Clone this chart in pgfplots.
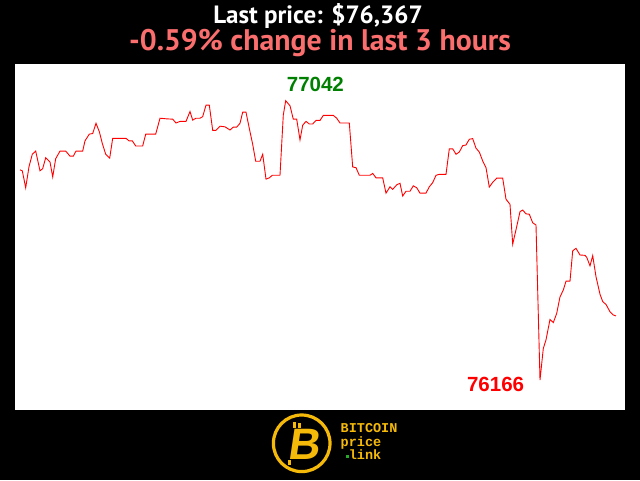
\documentclass[border=0pt]{standalone}
\usepackage{pgfplots}
\pgfplotsset{compat=1.18}
\usepackage{pgfplotstable}
\usepackage{fontspec}
\setmainfont{PT Sans}
\newfontfamily\labelfont{Liberation Sans}
\newfontfamily\logofont{Liberation Mono}

\definecolor{pricered}{RGB}{255,0,0}
\definecolor{maxgreen}{RGB}{0,128,0}
\definecolor{changered}{RGB}{250,110,110}
\definecolor{logogold}{RGB}{245,185,10}
\definecolor{logogreen}{RGB}{40,170,40}

% price over the last 3 hours (x = sample position, y = USD)
\pgfplotstableread{
x      price
20.0   76825
22.3   76822
25.7   76769
29.0   76835
32.3   76874
35.7   76884
40.0   76822
42.7   76829
45.7   76863
50.0   76850
52.7   76803
55.7   76860
60.0   76884
65.7   76884
70.0   76868
73.3   76868
76.0   76884
82.7   76884
85.0   76916
89.3   76937
92.7   76939
96.0   76971
99.3   76945
102.3  76908
105.7  76874
109.7  76862
112.7  76924
126.0  76924
129.0  76916
132.3  76916
135.7  76900
142.7  76900
145.7  76937
155.7  76937
160.0  76987
166.7  76985
172.7  76984
176.0  76972
180.0  76977
186.0  76977
190.0  77008
192.7  76981
196.0  76987
200.0  76987
202.7  76992
206.0  77028
209.3  77028
212.7  76949
216.0  76949
220.0  76962
225.0  76960
230.0  76950
233.3  76959
236.7  76959
240.0  76971
242.7  77006
246.0  77006
249.3  76955
252.7  76905
255.7  76852
260.0  76852
262.7  76874
266.0  76796
269.3  76800
272.3  76808
280.0  76808
283.3  76997
285.7  77042
290.0  77026
293.3  76984
296.7  76984
300.0  76919
302.7  76965
306.0  76977
309.3  76969
312.7  76969
316.0  76980
320.0  76980
323.3  76996
333.3  76996
336.7  76987
340.0  76972
349.3  76972
352.7  76834
356.0  76832
359.3  76808
370.0  76808
372.7  76814
376.0  76800
382.7  76800
386.0  76752
390.0  76772
392.7  76764
396.7  76778
400.0  76783
402.7  76743
406.0  76758
410.0  76758
413.3  76775
416.7  76769
420.0  76752
426.0  76752
429.3  76772
432.7  76785
436.0  76808
439.3  76811
446.0  76811
449.3  76891
452.7  76891
456.0  76874
459.3  76881
462.7  76901
466.0  76903
469.3  76921
472.7  76923
476.0  76893
479.3  76881
482.7  76853
486.0  76832
489.3  76771
492.7  76786
496.7  76799
502.7  76799
506.0  76733
510.0  76717
512.7  76592
516.7  76647
520.0  76694
522.7  76699
526.0  76687
529.3  76686
532.7  76659
536.0  76652
540.0  76166
543.3  76265
546.0  76292
550.0  76356
553.3  76346
556.7  76375
560.0  76427
563.3  76448
566.0  76476
570.0  76476
572.7  76571
576.0  76579
580.0  76558
585.0  76557
586.7  76551
590.0  76524
592.7  76556
596.0  76490
600.0  76435
602.7  76412
606.0  76403
610.0  76380
613.3  76370
616.0  76367
}\pricedata

\begin{document}
\begin{tikzpicture}[x=1pt,y=1pt]
% page background and plot panel
\fill[black] (0,0) rectangle (640,480);
\fill[white] (15,70) rectangle (625,416);

% titles
\node[anchor=base, text=white, inner sep=0pt, font=\fontsize{25}{28}\selectfont\bfseries]
  at (318,456.5) {Last price: \$76,367};
\node[anchor=base, text=changered, inner sep=0pt, font=\fontsize{29.8}{32}\selectfont\bfseries]
  at (320,429.5) {-0.59\% change in last 3 hours};

\begin{axis}[
    at={(15pt,70pt)}, anchor=south west,
    scale only axis, width=610pt, height=346pt,
    xmin=15, xmax=625,
    ymin=76072, ymax=77157,
    hide axis, clip=false,
]
\addplot[color=pricered, line width=0.9pt, mark=none] table[x=x, y=price] {\pricedata};

\node[anchor=base west, text=maxgreen, font=\labelfont\fontsize{20.5}{22}\selectfont\bfseries,
      inner sep=0pt, xshift=1pt, yshift=9pt] at (axis cs:285.7,77042) {77042};
\node[anchor=base east, text=pricered, font=\labelfont\fontsize{20.5}{22}\selectfont\bfseries,
      inner sep=0pt, xshift=-15.7pt, yshift=-11pt] at (axis cs:540,76166) {76166};
\end{axis}

% logo
\draw[logogold, line width=3.2pt] (301.7,36.7) circle (28.3);
\node[text=logogold, font=\labelfont\fontsize{44}{44}\selectfont\bfseries,
      xslant=0.15, inner sep=0pt] at (306,36) {B};
\fill[logogold] (293,52) rectangle (296,58);
\fill[logogold] (298,52) rectangle (301,57);
\fill[logogold] (288,15) rectangle (291,20);
\node[anchor=base west, text=logogold, font=\logofont\fontsize{13.5}{14}\selectfont\bfseries, inner sep=0pt]
  at (340.5,47.3) {BITCOIN};
\node[anchor=base west, text=logogold, font=\logofont\fontsize{13.5}{14}\selectfont\bfseries, inner sep=0pt]
  at (340.5,33.8) {price};
\node[anchor=base west, text=logogold, font=\logofont\fontsize{13.5}{14}\selectfont\bfseries, inner sep=0pt]
  at (348.6,20.3) {link};
\fill[logogreen] (345.5,22.5) rectangle (348.5,25.5);
\end{tikzpicture}
\end{document}
